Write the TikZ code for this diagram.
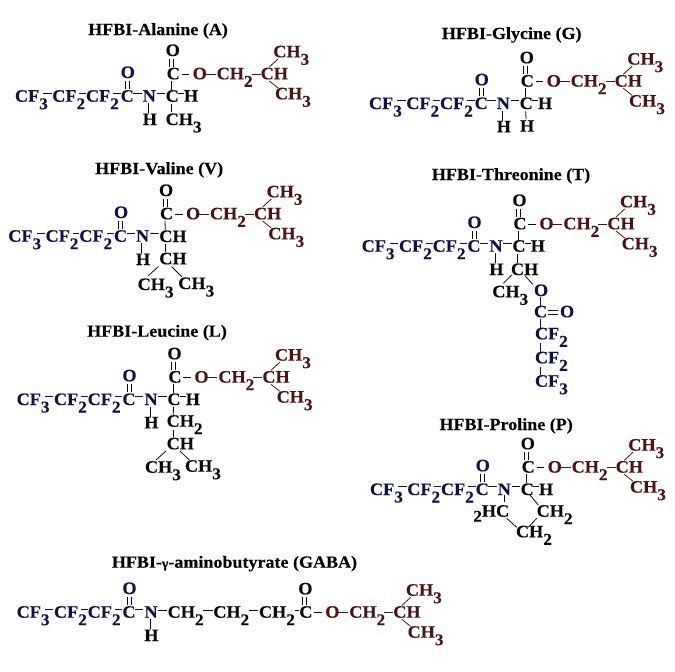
\documentclass[tikz,border=0pt]{standalone}
\usepackage{fontspec}
\setmainfont{Liberation Serif}
\newfontfamily\chemfont[FakeStretch=1.04,FakeBold=0.25]{Liberation Serif Bold}
\newfontfamily\titlefont[FakeStretch=1.06,FakeBold=0.2]{Liberation Serif Bold}
\definecolor{fluoro}{HTML}{10104A}
\definecolor{ester}{HTML}{4A1414}
\definecolor{ink}{HTML}{0A0A0A}
\newcommand\sbs[1]{\raisebox{-7.5pt}{\fontsize{16.5}{16.5}\selectfont #1}}
\tikzset{
  atom/.style={anchor=base west,inner sep=0pt,outer sep=0pt,text=ink,font=\chemfont\fontsize{17.5}{17.5}\selectfont},
  fatom/.style={atom,text=fluoro},
  eatom/.style={atom,text=ester},
  titletext/.style={anchor=base west,inner sep=0pt,text=black,font=\titlefont\fontsize{17}{17}\selectfont},
  bondline/.style={draw=ink,line width=0.8pt},
  fbond/.style={draw=fluoro,line width=0.8pt},
  ebond/.style={draw=ester,line width=0.8pt}
}
% bond: style, node a, dx, dy from its base-left, node b, dx, dy
\newcommand\bnd[7][bondline]{\draw[#1] ([shift={(#3,#4)}]#2.base west) -- ([shift={(#6,#7)}]#5.base west);}
% the heptafluorobutyryl chain with amide N
\newcommand\acyl{%
  \node[fatom] (CFa) at (15,101.7) {CF\sbs3};
  \node[fatom] (CFb) at (52.3,101.7) {CF\sbs2};
  \node[fatom] (CFc) at (86,101.7) {CF\sbs2};
  \node[fatom] (Ca) at (120.7,101.7) {C};
  \node[fatom] (Oa) at (120.7,78) {O};
  \node[fatom] (N) at (142.7,101.7) {N};
  \bnd[fbond]{CFa}{28.3}{-8.4}{CFb}{-.6}{-8.4}
  \bnd[fbond]{CFb}{27}{-8.4}{CFc}{0}{-8.4}
  \bnd[fbond]{CFc}{27.3}{-8.4}{Ca}{0}{-8.4}
  \bnd[fbond]{Ca}{12.6}{-8.4}{N}{-1}{-8.4}
  \bnd{Ca}{4.6}{-12.7}{Oa}{4.6}{3}
  \bnd{Ca}{8.6}{-12.7}{Oa}{8.6}{3}
}
\newcommand\NH{%
  \node[atom] (Hn) at (142.7,125) {H};
  \bnd{N}{5.6}{1.6}{Hn}{5.6}{-11.7}
}
\newcommand\ester[2]{%
  \begin{scope}[shift={(#1,#2)}]
  \node[atom] (Cb) at (166.7,79.3) {C};
  \node[atom] (Ob) at (165.7,56) {O};
  \node[eatom] (Oc) at (192.7,79.3) {O};
  \node[eatom] (Me) at (216.7,79.3) {CH\sbs2};
  \node[eatom] (Ch) at (260.7,79.3) {CH};
  \node[eatom] (Mu) at (273.3,57.3) {CH\sbs3};
  \node[eatom] (Md) at (275,99.3) {CH\sbs3};
  \bnd{Cb}{3}{-12.6}{Ob}{4}{3}
  \bnd{Cb}{7}{-12.6}{Ob}{8}{3}
  \bnd{Cb}{15}{-5.3}{Oc}{-3.4}{-5.3}
  \bnd[ebond]{Oc}{13}{-5.3}{Me}{-1}{-5.3}
  \bnd[ebond]{Me}{35}{-5.3}{Ch}{0}{-5.3}
  \bnd[ebond]{Ch}{8.6}{-12.3}{Mu}{4.7}{1.7}
  \bnd[ebond]{Ch}{8.6}{1.7}{Md}{3}{-11.3}
  \end{scope}
}
\newcommand\cN{\bnd{N}{14}{-8.4}{Cg}{-.7}{-8.4}}
\newcommand\cUp{\bnd{Cg}{6}{-11.7}{Cb}{5}{1.4}}
\newcommand\Cg{%
  \node[atom] (Cg) at (165.7,101.7) {C};
  \node[atom] (Hc) at (184,101.7) {H};
  \cN\cUp
  \bnd{Cg}{12.5}{-8.4}{Hc}{0}{-8.4}
}
\begin{document}
\begin{tikzpicture}[x=1pt,y=-1pt]
\useasboundingbox[fill=white] (0,0) rectangle (675,672);
\node[titletext] (tA) at (88,35) {HFBI-Alanine (A)};
\node[titletext] (tG) at (441.7,39) {HFBI-Glycine (G)};
\node[titletext] (tV) at (95,174) {HFBI-Valine (V)};
\node[titletext] (tT) at (431.7,180) {HFBI-Threonine (T)};
\node[titletext] (tL) at (87,336.7) {HFBI-Leucine (L)};
\node[titletext] (tP) at (439.3,430) {HFBI-Proline (P)};
\node[titletext] (tY) at (111.7,567.7) {HFBI-{\fontsize{13}{13}\selectfont γ}-aminobutyrate (GABA)};
% Alanine
\begin{scope}[name prefix=A-]
  \acyl\NH\ester{0}{0}\Cg
  \node[atom] (Me3) at (165.7,125) {CH\sbs3};
  \bnd{Cg}{6}{2.3}{Me3}{6}{-13.3}
\end{scope}
% Glycine
\begin{scope}[shift={(354,7.3)},name prefix=G-]
  \acyl\NH\ester{0}{0}\Cg
  \node[atom] (Hb) at (166,124.4) {H};
  \bnd{Cg}{6}{2.3}{Hb}{6}{-12.7}
\end{scope}
% Valine
\begin{scope}[shift={(-6.7,140)},name prefix=V-]
  \acyl\NH\ester{0}{0}
  \node[atom] (Cg) at (166,102) {CH};
  \cN\cUp
  \node[atom] (Cd) at (166,124.3) {CH};
  \node[atom] (Mx) at (144.4,150) {CH\sbs3};
  \node[atom] (My) at (185,149) {CH\sbs3};
  \bnd{Cg}{5.7}{2}{Cd}{5.7}{-12.3}
  \bnd{Cd}{-1}{2.4}{Mx}{10.6}{-14.3}
  \bnd{Cd}{12.4}{2.4}{My}{3.4}{-12.3}
\end{scope}
% Threonine
\begin{scope}[shift={(346.7,150)},name prefix=T-]
  \acyl\NH\ester{0}{0}\Cg
  \node[atom] (Cd) at (164.3,125) {CH};
  \node[atom] (Mx) at (145.6,147.3) {CH\sbs3};
  \node[fatom] (Oe) at (187.3,146) {O};
  \node[fatom] (Cc) at (187.3,167.3) {C};
  \node[fatom] (Of) at (213.3,167.3) {O};
  \node[fatom] (Fa) at (188.3,189.3) {CF\sbs2};
  \node[fatom] (Fb) at (188.3,213.3) {CF\sbs2};
  \node[fatom] (Fc) at (188.3,236.7) {CF\sbs3};
  \bnd{Cg}{5.3}{2.3}{Cd}{6.7}{-11.7}
  \bnd{Cd}{.7}{0}{Mx}{11}{-14}
  \bnd{Cd}{14}{.7}{Oe}{-1.3}{-11.7}
  \bnd[fbond]{Oe}{6}{.7}{Cc}{6}{-11.3}
  \bnd[fbond]{Cc}{14.3}{-7.3}{Of}{-1.7}{-7.3}
  \bnd[fbond]{Cc}{14.3}{-3}{Of}{-1.7}{-3}
  \bnd[fbond]{Cc}{6}{1.7}{Fa}{5}{-11}
  \bnd[fbond]{Fa}{5}{4}{Fb}{5}{-11.6}
  \bnd[fbond]{Fb}{5}{3.4}{Fc}{5}{-11.7}
\end{scope}
% Leucine
\begin{scope}[shift={(1.7,303.3)},name prefix=L-]
  \acyl\NH\ester{0}{0}\Cg
  \node[atom] (Cd) at (165,123.4) {CH\sbs2};
  \node[atom] (Ce) at (165,146) {CH};
  \node[atom] (Mx) at (143.3,169.4) {CH\sbs3};
  \node[atom] (My) at (183.3,168.4) {CH\sbs3};
  \bnd{Cg}{6}{1.7}{Cd}{6.6}{-10}
  \bnd{Cd}{6.6}{3.3}{Ce}{6.6}{-12.6}
  \bnd{Ce}{-.7}{1.7}{Mx}{11}{-12.7}
  \bnd{Ce}{13.3}{1.7}{My}{4.3}{-11.7}
\end{scope}
% Proline
\begin{scope}[shift={(355,393.3)},name prefix=P-]
  \acyl\ester{0}{0}\Cg
  \node[atom] (Hc2) at (118.3,123.4) {\raisebox{-5pt}{\fontsize{16.5}{16.5}\selectfont 2}HC};
  \node[atom] (Cd) at (181.7,123.4) {CH\sbs2};
  \node[atom] (Ce) at (161,144) {CH\sbs2};
  \bnd{N}{6.3}{0}{Hc2}{30.7}{-15}
  \bnd{Cg}{9.3}{0}{Cd}{1.6}{-11.7}
  \bnd{Cd}{0}{1.6}{Ce}{12.3}{-10}
  \bnd{Hc2}{33.4}{1.6}{Ce}{.7}{-10}
\end{scope}
% GABA
\begin{scope}[shift={(1.7,516)},name prefix=Y-]
  \acyl\NH\ester{130.9}{22.4}
  \node[atom] (Ma) at (166,101.7) {CH\sbs2};
  \node[atom] (Mb) at (211.6,101.7) {CH\sbs2};
  \node[atom] (Mc) at (257.3,101.7) {CH\sbs2};
  \bnd{N}{14}{-7}{Ma}{-1}{-7}
  \bnd{Ma}{35.6}{-7}{Mb}{-.6}{-7}
  \bnd{Mb}{35.7}{-7}{Mc}{-.6}{-7}
  \bnd{Mc}{35.7}{-7}{Cb}{-.6}{-7}
\end{scope}
\end{tikzpicture}
\end{document}
